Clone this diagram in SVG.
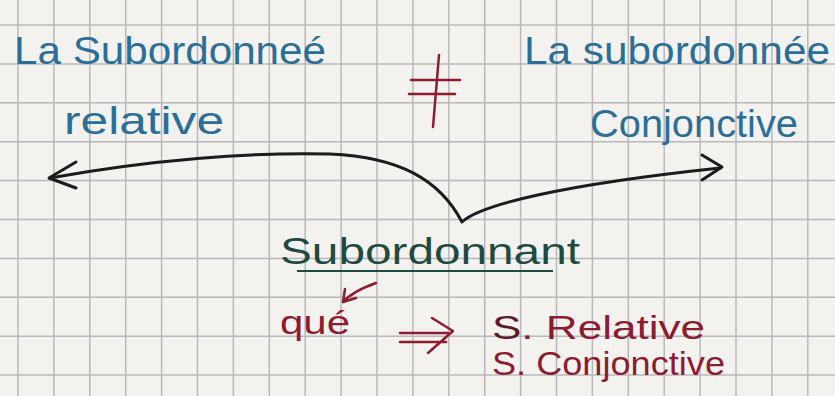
<svg xmlns="http://www.w3.org/2000/svg" width="835" height="396" viewBox="0 0 835 396">
<defs>
<style>
.grid line{stroke:#b8b8bc;stroke-width:1.5}
.blue{font-family:"Liberation Sans",sans-serif;fill:#2b6f98;font-size:38px}
.green{font-family:"Liberation Sans",sans-serif;fill:#1f4a40;font-size:36px}
.red{font-family:"Liberation Sans",sans-serif;fill:#8c1c30;font-size:34px}
.ink{fill:none;stroke:#1c1a1c;stroke-width:3;stroke-linecap:round;stroke-linejoin:round}
.redln{fill:none;stroke:#8c1c30;stroke-width:2.5;stroke-linecap:round;stroke-linejoin:round}
</style>
</defs>
<rect width="835" height="396" fill="#f4f2ef"/>
<g class="grid">
<line x1="18" y1="0" x2="18" y2="396"/>
<line x1="53.9" y1="0" x2="53.9" y2="396"/>
<line x1="89.8" y1="0" x2="89.8" y2="396"/>
<line x1="125.7" y1="0" x2="125.7" y2="396"/>
<line x1="161.6" y1="0" x2="161.6" y2="396"/>
<line x1="197.5" y1="0" x2="197.5" y2="396"/>
<line x1="233.4" y1="0" x2="233.4" y2="396"/>
<line x1="269.3" y1="0" x2="269.3" y2="396"/>
<line x1="305.2" y1="0" x2="305.2" y2="396"/>
<line x1="341.1" y1="0" x2="341.1" y2="396"/>
<line x1="377" y1="0" x2="377" y2="396"/>
<line x1="412.9" y1="0" x2="412.9" y2="396"/>
<line x1="448.8" y1="0" x2="448.8" y2="396"/>
<line x1="484.7" y1="0" x2="484.7" y2="396"/>
<line x1="520.6" y1="0" x2="520.6" y2="396"/>
<line x1="556.5" y1="0" x2="556.5" y2="396"/>
<line x1="592.4" y1="0" x2="592.4" y2="396"/>
<line x1="628.3" y1="0" x2="628.3" y2="396"/>
<line x1="664.2" y1="0" x2="664.2" y2="396"/>
<line x1="700.1" y1="0" x2="700.1" y2="396"/>
<line x1="736" y1="0" x2="736" y2="396"/>
<line x1="771.9" y1="0" x2="771.9" y2="396"/>
<line x1="807.8" y1="0" x2="807.8" y2="396"/>
<line x1="0" y1="25" x2="835" y2="25"/>
<line x1="0" y1="63.9" x2="835" y2="63.9"/>
<line x1="0" y1="102.8" x2="835" y2="102.8"/>
<line x1="0" y1="141.7" x2="835" y2="141.7"/>
<line x1="0" y1="180.6" x2="835" y2="180.6"/>
<line x1="0" y1="219.5" x2="835" y2="219.5"/>
<line x1="0" y1="258.4" x2="835" y2="258.4"/>
<line x1="0" y1="297.3" x2="835" y2="297.3"/>
<line x1="0" y1="336.2" x2="835" y2="336.2"/>
<line x1="0" y1="375.1" x2="835" y2="375.1"/>
</g>
<g id="left-title">
<text class="blue" x="14" y="64" textLength="312" lengthAdjust="spacingAndGlyphs">La Subordonneé</text>
<text class="blue" x="64" y="134" textLength="160" lengthAdjust="spacingAndGlyphs">relative</text>
</g>
<g id="different">
<path class="redln" d="M411 80H460M409 94H455M439 55L433 127"/>
</g>
<g id="right-title">
<text class="blue" x="524" y="64" textLength="306" lengthAdjust="spacingAndGlyphs">La subordonnée</text>
<text class="blue" x="590" y="137" textLength="208" lengthAdjust="spacingAndGlyphs">Conjonctive</text>
</g>
<g id="connectors">
<path class="ink" d="M50 178C150 160 250 152 330 154C400 157 440 180 462 222C480 205 560 185 720 168"/>
<path class="ink" d="M76 162L49 178L76 188"/>
<path class="ink" d="M702 155L722 167L702 180"/>
</g>
<g id="subordonnant">
<text class="green" x="280" y="264" textLength="300" lengthAdjust="spacingAndGlyphs">Subordonnant</text>
<path d="M297 271H553" stroke="#1f4a40" stroke-width="2.2" fill="none"/>
</g>
<g id="que">
<path class="redln" d="M376 283C362 288 350 294 343 302M343 302L345 289M343 302L356 298"/>
<text class="red" x="280" y="334" textLength="70" lengthAdjust="spacingAndGlyphs">qué</text>
<path class="redln" d="M400 333H448M400 342H446M432 318L453 331L428 353"/>
</g>
<g id="types">
<text class="red" x="492" y="339" textLength="213" lengthAdjust="spacingAndGlyphs"><tspan fill="#5a1a28">S</tspan>. Relative</text>
<text class="red" x="492" y="375" textLength="233" lengthAdjust="spacingAndGlyphs" fill="#5a1a28">S. Conjonctive</text>
</g>
</svg>
